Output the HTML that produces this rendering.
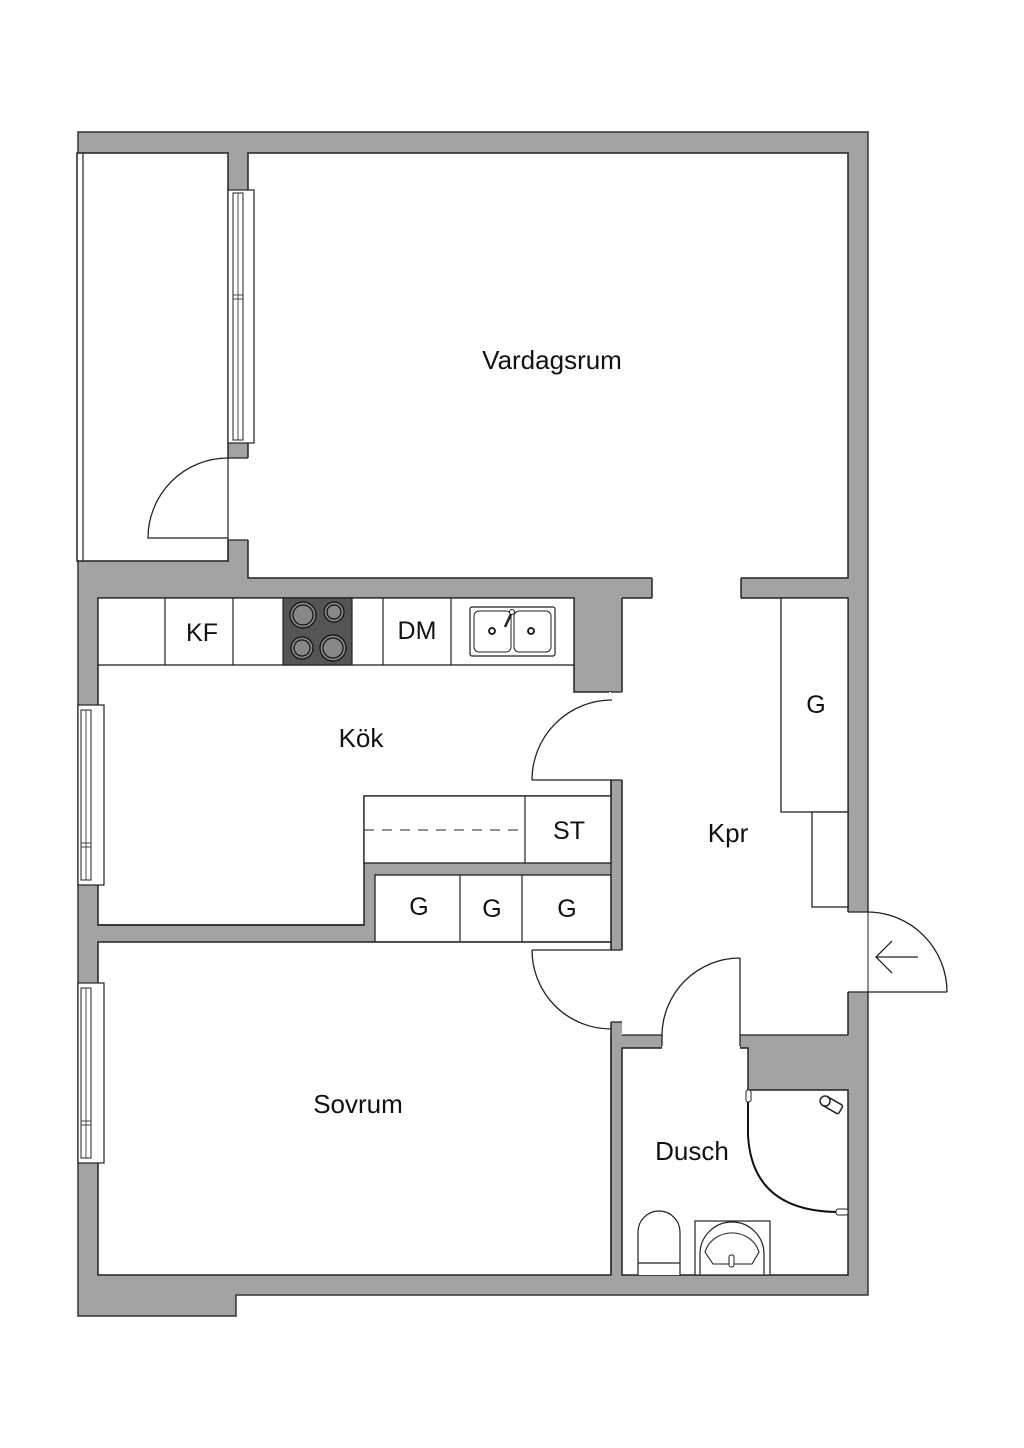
<!DOCTYPE html>
<html><head><meta charset="utf-8"><style>
html,body{margin:0;padding:0;background:#fff;}
svg{display:block;}
text{font-family:"Liberation Sans",sans-serif;fill:#111;}
</style></head><body>
<svg width="1024" height="1448" viewBox="0 0 1024 1448" xmlns="http://www.w3.org/2000/svg">
<polygon points="78,132 868,132 868,1295 236,1295 236,1316 78,1316" fill="#a3a3a3" stroke="#333" stroke-width="1.5"/>
<rect x="847" y="912" width="23" height="80" fill="#fff"/>
<rect x="77" y="153" width="151" height="408" fill="#fff" stroke="#222" stroke-width="1.5"/>
<line x1="83" y1="153" x2="83" y2="561" stroke="#222" stroke-width="1.2"/>
<rect x="248" y="153" width="600" height="425" fill="#fff" stroke="#222" stroke-width="1.5"/>
<rect x="227" y="458" width="22.5" height="82" fill="#fff"/>
<line x1="228" y1="458" x2="228" y2="561" stroke="#222" stroke-width="1.2"/>
<line x1="228" y1="458" x2="248" y2="458" stroke="#222" stroke-width="1.2"/>
<line x1="228" y1="540" x2="248" y2="540" stroke="#222" stroke-width="1.2"/>
<rect x="652" y="576" width="89" height="24" fill="#fff"/>
<line x1="652" y1="578" x2="652" y2="598" stroke="#222" stroke-width="1.5"/>
<line x1="741" y1="578" x2="741" y2="598" stroke="#222" stroke-width="1.5"/>
<rect x="228" y="190" width="26" height="253" fill="#fff" stroke="#222" stroke-width="1.2"/>
<rect x="233" y="193" width="10" height="247" fill="#fff" stroke="#222" stroke-width="1"/>
<line x1="238" y1="193" x2="238" y2="440" stroke="#222" stroke-width="0.8"/>
<line x1="233" y1="295" x2="243" y2="295" stroke="#222" stroke-width="0.8"/>
<line x1="233" y1="299" x2="243" y2="299" stroke="#222" stroke-width="0.8"/>
<path d="M228,458 A80,80 0 0 0 148,538 L228,538" fill="none" stroke="#222" stroke-width="1.3"/>
<text x="552" y="369" font-size="26" text-anchor="middle">Vardagsrum</text>

<polygon points="98,598 574,598 574,692 611,692 611,796 364,796 364,925 98,925" fill="#fff" stroke="#222" stroke-width="1.5"/>
<rect x="609" y="692" width="15" height="88" fill="#fff"/>
<line x1="611" y1="692" x2="622" y2="692" stroke="#222" stroke-width="1.3"/>
<line x1="532" y1="780" x2="622" y2="780" stroke="#222" stroke-width="1.3"/>
<path d="M612,700 A80,80 0 0 0 532,780" fill="none" stroke="#222" stroke-width="1.3"/>
<rect x="98" y="598" width="476" height="67" fill="#fff" stroke="#222" stroke-width="1.3"/>
<line x1="165" y1="598" x2="165" y2="665" stroke="#222" stroke-width="1.2"/>
<line x1="233" y1="598" x2="233" y2="665" stroke="#222" stroke-width="1.2"/>
<line x1="383" y1="598" x2="383" y2="665" stroke="#222" stroke-width="1.2"/>
<line x1="451" y1="598" x2="451" y2="665" stroke="#222" stroke-width="1.2"/>
<rect x="283" y="598" width="69" height="67" fill="#555" stroke="#222" stroke-width="1.2"/>
<g fill="#888" stroke="#111" stroke-width="1.2">
<circle cx="303" cy="615" r="13"/><circle cx="303" cy="615" r="10"/>
<circle cx="334" cy="612" r="10"/><circle cx="334" cy="612" r="7"/>
<circle cx="302" cy="648" r="11"/><circle cx="302" cy="648" r="8"/>
<circle cx="333" cy="648" r="13"/><circle cx="333" cy="648" r="10"/>
</g>
<rect x="470" y="607" width="85" height="49" rx="2" fill="#fff" stroke="#222" stroke-width="1.2"/>
<rect x="474" y="611" width="37" height="41" rx="5" fill="#fff" stroke="#222" stroke-width="1"/>
<rect x="514" y="611" width="37" height="41" rx="5" fill="#fff" stroke="#222" stroke-width="1"/>
<circle cx="492" cy="631" r="3" fill="none" stroke="#111" stroke-width="1.8"/>
<circle cx="531" cy="631" r="3" fill="none" stroke="#111" stroke-width="1.8"/>
<line x1="512" y1="612" x2="505" y2="627" stroke="#222" stroke-width="2.5"/>
<circle cx="512" cy="612" r="2.5" fill="#fff" stroke="#222"/>
<text x="202" y="641" font-size="25" text-anchor="middle">KF</text>
<text x="417" y="639" font-size="25" text-anchor="middle">DM</text>
<rect x="364" y="796" width="247" height="67" fill="#fff" stroke="#222" stroke-width="1.3"/>
<line x1="525" y1="796" x2="525" y2="863" stroke="#222" stroke-width="1.2"/>
<line x1="364" y1="830" x2="525" y2="830" stroke="#222" stroke-width="1" stroke-dasharray="10,8"/>
<text x="569" y="839" font-size="25" text-anchor="middle">ST</text>
<rect x="375" y="875" width="236" height="67" fill="#fff" stroke="#222" stroke-width="1.3"/>
<line x1="460" y1="875" x2="460" y2="942" stroke="#222" stroke-width="1.2"/>
<line x1="522" y1="875" x2="522" y2="942" stroke="#222" stroke-width="1.2"/>
<text x="419" y="915" font-size="25" text-anchor="middle">G</text>
<text x="492" y="917" font-size="25" text-anchor="middle">G</text>
<text x="567" y="917" font-size="25" text-anchor="middle">G</text>
<rect x="78" y="705" width="26" height="180" fill="#fff" stroke="#222" stroke-width="1.2"/>
<rect x="81" y="710" width="10" height="170" fill="#fff" stroke="#222" stroke-width="1"/>
<line x1="86" y1="710" x2="86" y2="880" stroke="#222" stroke-width="0.8"/>
<line x1="81" y1="843" x2="91" y2="843" stroke="#222" stroke-width="0.8"/>
<line x1="81" y1="847" x2="91" y2="847" stroke="#222" stroke-width="0.8"/>
<text x="361" y="747" font-size="26" text-anchor="middle">Kök</text>

<polygon points="622,598 848,598 848,1035 622,1035" fill="#fff" stroke="none"/>
<line x1="622" y1="598" x2="652" y2="598" stroke="#222" stroke-width="1.5"/>
<line x1="741" y1="598" x2="848" y2="598" stroke="#222" stroke-width="1.5"/>
<line x1="622" y1="598" x2="622" y2="692" stroke="#222" stroke-width="1.5"/>
<line x1="622" y1="780" x2="622" y2="950" stroke="#222" stroke-width="1.5"/>
<line x1="611" y1="780" x2="611" y2="950" stroke="#222" stroke-width="1.3"/>
<line x1="848" y1="598" x2="848" y2="912" stroke="#222" stroke-width="1.5"/>
<line x1="848" y1="992" x2="848" y2="1035" stroke="#222" stroke-width="1.5"/>
<rect x="781" y="598" width="67" height="214" fill="#fff" stroke="#222" stroke-width="1.3"/>
<rect x="812" y="812" width="36" height="95" fill="#fff" stroke="#222" stroke-width="1.3"/>
<text x="816" y="713" font-size="25" text-anchor="middle">G</text>
<text x="728" y="842" font-size="26" text-anchor="middle">Kpr</text>
<line x1="848" y1="912" x2="868" y2="912" stroke="#222" stroke-width="1.3"/>
<line x1="848" y1="992" x2="947" y2="992" stroke="#222" stroke-width="1.3"/>
<line x1="868" y1="912" x2="868" y2="992" stroke="#222" stroke-width="1"/>
<path d="M868,912 A80,80 0 0 1 947,992" fill="none" stroke="#222" stroke-width="1.3"/>
<path d="M918,957 L876,957 M892,941 L876,957 L892,973" fill="none" stroke="#222" stroke-width="1.3"/>

<rect x="98" y="942" width="513" height="333" fill="#fff" stroke="#222" stroke-width="1.5"/>
<line x1="98" y1="925" x2="364" y2="925" stroke="#222" stroke-width="1.5"/>
<rect x="609" y="950" width="15" height="72" fill="#fff"/>
<line x1="611" y1="1022" x2="622" y2="1022" stroke="#222" stroke-width="1.3"/>
<line x1="611" y1="950" x2="622" y2="950" stroke="#222" stroke-width="1.3"/>
<line x1="532" y1="950" x2="611" y2="950" stroke="#222" stroke-width="1.2"/>
<path d="M532,950 A79,79 0 0 0 611,1029" fill="none" stroke="#222" stroke-width="1.3"/>
<rect x="78" y="983" width="26" height="180" fill="#fff" stroke="#222" stroke-width="1.2"/>
<rect x="81" y="988" width="10" height="170" fill="#fff" stroke="#222" stroke-width="1"/>
<line x1="86" y1="988" x2="86" y2="1158" stroke="#222" stroke-width="0.8"/>
<line x1="81" y1="1121" x2="91" y2="1121" stroke="#222" stroke-width="0.8"/>
<line x1="81" y1="1125" x2="91" y2="1125" stroke="#222" stroke-width="0.8"/>
<text x="358" y="1113" font-size="26" text-anchor="middle">Sovrum</text>

<rect x="622" y="1035" width="226" height="13" fill="#a3a3a3"/>
<rect x="662" y="1033" width="78" height="17" fill="#fff"/>
<line x1="622" y1="1035" x2="662" y2="1035" stroke="#222" stroke-width="1.3"/>
<line x1="740" y1="1035" x2="848" y2="1035" stroke="#222" stroke-width="1.3"/>
<line x1="662" y1="1035" x2="662" y2="1048" stroke="#222" stroke-width="1.3"/>
<line x1="740" y1="958" x2="740" y2="1048" stroke="#222" stroke-width="1.3"/>
<path d="M740,958 A78,78 0 0 0 662,1036" fill="none" stroke="#222" stroke-width="1.3"/>

<polygon points="622,1048 662,1048 740,1048 748,1048 748,1090 848,1090 848,1275 622,1275" fill="#fff" stroke="#222" stroke-width="1.5"/>
<rect x="662" y="1046" width="78" height="4" fill="#fff"/>
<path d="M748,1092 L748,1135 Q752,1212 840,1212 L848,1212" fill="none" stroke="#111" stroke-width="2"/>
<rect x="746" y="1090" width="5" height="12" rx="2" fill="#fff" stroke="#222"/>
<rect x="836" y="1209" width="12" height="6" rx="2" fill="#fff" stroke="#222"/>
<g transform="translate(832,1105) rotate(30)"><rect x="-10" y="-5" width="20" height="10" rx="2" fill="#fff" stroke="#222" stroke-width="1.5"/><circle cx="-8" cy="0" r="5" fill="#fff" stroke="#222" stroke-width="1.5"/></g>
<text x="692" y="1160" font-size="26" text-anchor="middle">Dusch</text>
<path d="M638,1275 L638,1232 A21,21 0 0 1 680,1232 L680,1275" fill="#fff" stroke="#222" stroke-width="1.2"/>
<line x1="638" y1="1263" x2="680" y2="1263" stroke="#222" stroke-width="1.2"/>
<rect x="695" y="1221" width="75" height="54" fill="#fff" stroke="#222" stroke-width="1.2"/>
<path d="M700,1275 L700,1254 A32,32 0 0 1 764,1254 L764,1275" fill="none" stroke="#222" stroke-width="1.2"/>
<path d="M705,1252 A28,26 0 0 1 759,1252 L752,1264 L713,1264 Z" fill="none" stroke="#222" stroke-width="1.1"/>
<rect x="729" y="1255" width="5" height="12" rx="2" fill="#fff" stroke="#222"/>
<line x1="611" y1="1035" x2="611" y2="1275" stroke="#222" stroke-width="1.3"/>
</svg>
</body></html>
